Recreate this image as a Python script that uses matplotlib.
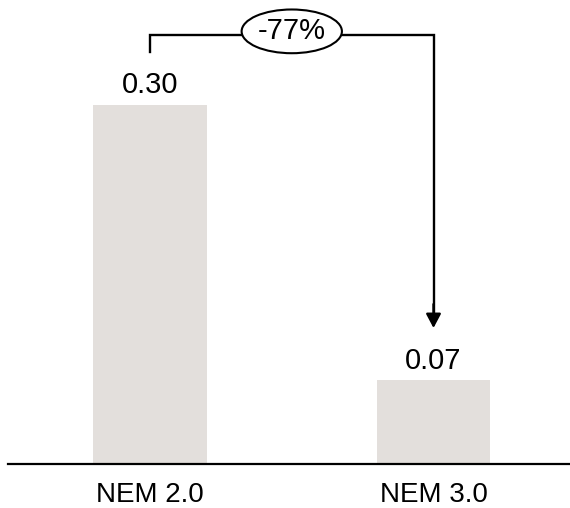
import matplotlib.pyplot as plt

plt.rcParams['font.family'] = ['Liberation Sans', 'DejaVu Sans']

# ── data ─────────────────────────────────────
categories = ["NEM 2.0", "NEM 3.0"]
values     = [0.30, 0.07]
labels     = ["0.30", "0.07"]
change_txt = "-77%"

BAR_COLOR = "#e3dfdc"

fig = plt.figure(figsize=(5.70, 5.08), dpi=100)
ax = fig.add_axes([8 / 570, 44 / 508, 562 / 570, 464 / 508])

x = list(range(len(categories)))
ax.bar(x, values, width=0.4, color=BAR_COLOR)

ax.set_xlim(-0.501, 1.4815)
ax.set_ylim(0, 0.3877)

for xi, v, lab in zip(x, values, labels):
    ax.annotate(lab, (xi, v), xytext=(0, 4), textcoords="offset points",
                ha="center", va="bottom", fontsize=21)

ax.set_xticks(x)
ax.set_xticklabels(categories, fontsize=20)
ax.tick_params(axis="x", length=0, pad=13)
ax.set_yticks([])
for s in ["top", "left", "right"]:
    ax.spines[s].set_visible(False)
ax.spines["bottom"].set_linewidth(1.6)

# ── bracket + arrow ──────────────────────────
y_top = 0.3585
y_tip = 0.1136
ax.plot([x[0], x[0], x[1], x[1]], [0.3443, y_top, y_top, y_tip + 0.01],
        color="black", lw=1.7, clip_on=False, solid_joinstyle="miter")
ax.annotate("", xy=(x[1], y_tip), xytext=(x[1], y_tip + 0.02),
            arrowprops=dict(arrowstyle="-|>,head_length=0.85,head_width=0.45",
                            color="black", lw=1.7, shrinkA=0, shrinkB=0),
            annotation_clip=False)
ax.text((x[0] + x[1]) / 2, y_top + 0.003, change_txt, ha="center", va="center",
        fontsize=21, clip_on=False,
        bbox=dict(boxstyle="ellipse,pad=0.05", fc="white", ec="black", lw=1.5))

plt.savefig("out.png", dpi=100)
